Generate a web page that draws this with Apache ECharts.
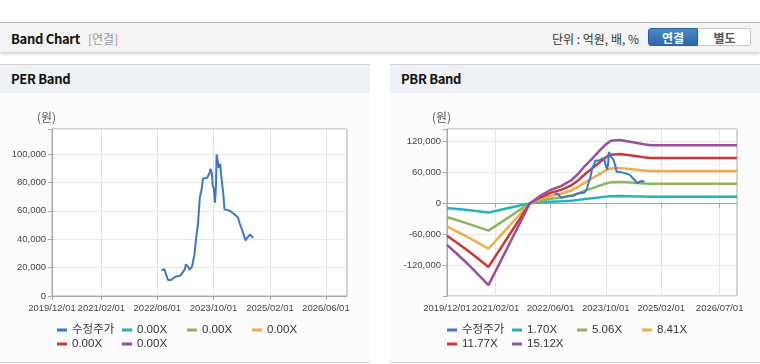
<!DOCTYPE html>
<html>
<head>
<meta charset="utf-8">
<script src="https://cdn.jsdelivr.net/npm/echarts@6/dist/echarts.min.js"></script>
<style>
  body { margin: 0; background: #fff; font-family: "Noto Sans CJK KR", "Liberation Sans", sans-serif; }
  #page { position: relative; width: 760px; height: 364px; overflow: hidden; }
  .hdr { position: absolute; left: 0; top: 22px; width: 760px; height: 29px; border-top: 1px solid #b8b8b8;
         background: #f4f4f4; box-shadow: 0 2px 3px rgba(0,0,0,0.18); }
  .hdr .ttl { position: absolute; left: 11px; top: 6px; font-size: 13px; font-weight: bold; color: #111; letter-spacing: -0.3px; }
  .hdr .sub { position: absolute; left: 88px; top: 7px; font-size: 12px; color: #999; }
  .hdr .unit { position: absolute; left: 552px; top: 7px; font-size: 12px; color: #333; }
  .btn { position: absolute; top: 5px; height: 18px; width: 50px; font-size: 12px; font-weight: bold; text-align: center; line-height: 18px; box-sizing: border-box; }
  .btn.on { left: 648px; background: linear-gradient(#4a86c8, #2f69ad); color: #fff; border: 1px solid #2c5f9c; border-radius: 3px 0 0 3px; }
  .btn.off { left: 699px; width: 52px; background: #fff; color: #555; border: 1px solid #c8c8c8; border-left: none; border-radius: 0 3px 3px 0; }
  .panel { position: absolute; top: 64px; height: 297px; border-top: 1px solid #d2d2d2; border-bottom: 1px solid #cfcfcf; background: #fcfcfc; }
  .panel .ph { height: 28px; background: #eef2f7; font-size: 13px; font-weight: bold; color: #111; line-height: 28px; padding-left: 11px; letter-spacing: -0.3px; }
  .chart { position: absolute; left: 0; top: 29px; width: 100%; height: 268px; }
</style>
</head>
<body>
<div id="page">
  <div class="hdr">
    <span class="ttl">Band Chart</span><span class="sub">[연결]</span>
    <span class="unit">단위 : 억원, 배, %</span>
    <div class="btn on">연결</div><div class="btn off">별도</div>
  </div>
  <div class="panel" style="left:0;width:370px;"><div class="ph">PER Band</div><div class="chart" id="per"></div></div>
  <div class="panel" style="left:390px;width:370px;"><div class="ph">PBR Band</div><div class="chart" id="pbr"></div></div>
</div>
<script>
// 수정주가
const priceDates = ['2022-07-07','2022-08-01','2022-09-01','2022-09-28','2022-11-04','2022-12-19','2023-01-25','2023-02-04',
  '2023-03-01','2023-03-07','2023-03-28','2023-04-19','2023-05-04','2023-05-19','2023-05-28','2023-06-04','2023-06-19',
  '2023-07-01','2023-08-07','2023-08-29','2023-09-04','2023-09-16','2023-09-25','2023-10-04','2023-10-13','2023-10-22',
  '2023-10-28','2023-11-10','2023-11-16','2023-11-28','2023-12-07','2023-12-25','2024-01-04','2024-02-13','2024-03-25',
  '2024-05-01','2024-05-16','2024-06-13','2024-07-04','2024-07-19','2024-08-13','2024-08-25','2024-09-07'];
const priceValues = [18100,18800,11300,11300,13600,14500,18800,22300,20000,18300,20600,29300,41500,50500,61000,69200,74400,
  82600,83300,86800,89600,86800,77400,75800,65700,77400,99700,98600,90300,93100,84500,71600,61000,60300,57900,
  55100,50900,44600,39200,41000,43400,42200,41000];

// PBR 밴드
const bandDates = ['2019-12-01','2020-03-01','2020-06-01','2020-09-01','2020-12-01','2021-12-01','2022-03-01','2022-06-01',
  '2022-09-01','2022-12-01','2023-02-01','2023-04-01','2023-06-01','2023-08-01','2023-10-01','2023-11-15','2023-12-01',
  '2024-02-01','2024-05-01','2024-09-01','2024-11-01','2026-12-01'];
const pbrBand1 = [-9100,-11100,-13300,-15600,-17900,0,1600,2900,3700,5000,6500,8200,9700,11300,12800,13600,13900,13800,13400,12900,12700,12700];
const pbrBand2 = [-27100,-33100,-39500,-46300,-53100,0,4800,8600,11100,14900,19200,24300,28800,33600,38200,40500,41200,41000,40000,38300,37700,37700];
const pbrBand3 = [-45000,-55100,-65600,-77000,-88300,0,7900,14300,18500,24800,32000,40400,47900,55900,63500,67300,68500,68100,66400,63700,62700,62700];
const pbrBand4 = [-63000,-77100,-91800,-107700,-123600,0,11100,20000,25900,34700,44700,56500,67100,78300,88900,94200,95900,95300,93000,89100,87700,87700];
const pbrBand5 = [-80900,-99000,-117900,-138300,-158800,0,14200,25700,33300,44600,57500,72600,86200,100500,114200,121000,123200,122500,119400,114500,112600,112600];

const perLabels = ['수정주가','0.00X','0.00X','0.00X','0.00X','0.00X'];
const pbrLabels = ['수정주가','1.70X','5.06X','8.41X','11.77X','15.12X'];
const perTicks = ['2019/12/01','2021/02/01','2022/06/01','2023/10/01','2025/02/01','2026/06/01'];
const pbrTicks = ['2019/12/01','2021/02/01','2022/06/01','2023/10/01','2025/02/01','2026/07/01'];
const perYLabels = [0,20000,40000,60000,80000,100000];
const pbrYLabels = [-120000,-60000,0,60000,120000];

const colors = ['#3a78c9','#22b2c2','#8cb65a','#f4aa45','#cf3531','#9650a1'];
const numFont = '"Liberation Sans", "DejaVu Sans", sans-serif';

function ts(s) { const p = s.split(/[\/-]/); return new Date(+p[0], +p[1] - 1, +p[2]).getTime(); }
function fmtDate(v) {
  const d = new Date(v), m = d.getMonth() + 1, dd = d.getDate();
  return d.getFullYear() + '/' + (m < 10 ? '0' + m : m) + '/' + (dd < 10 ? '0' + dd : dd);
}
function pairs(dates, vals) { return dates.map((d, i) => [ts(d), vals[i]]); }

function buildOption(labels, ticks, yLabels, yAxisRange, bands, gridLeft) {
  const ids = labels.map((l, i) => 's' + i);
  const series = [{ name: ids[0], type: 'line', data: pairs(priceDates, priceValues) }];
  for (let i = 0; i < 5; i++) {
    series.push({ name: ids[i + 1], type: 'line', data: bands ? pairs(bandDates, bands[i]) : [] });
  }
  series.forEach((s, i) => {
    s.showSymbol = false; s.symbol = 'none'; s.color = colors[i];
    s.lineStyle = { width: i === 0 ? 2 : 2.5, color: colors[i] };
    s.z = i === 0 ? 3 : 2;
  });
  return {
    animation: false,
    grid: { left: gridLeft, right: 23, top: 35, bottom: 66, show: true, borderColor: '#a8a8a8', borderWidth: 1, backgroundColor: '#fff' },
    graphic: [{ type: 'text', left: gridLeft - 15, top: 17, style: { text: '(원)', font: '12px "Noto Sans CJK KR"', fill: '#555' } }],
    legend: {
      data: ids, left: 52, top: 224, width: 262, itemGap: 0, itemWidth: 10, itemHeight: 3, icon: 'rect',
      formatter: n => labels[ids.indexOf(n)],
      textStyle: { fontSize: 11.5, color: '#333', width: 50, lineHeight: 14, fontFamily: '"Liberation Sans", "Noto Sans CJK KR", sans-serif' }
    },
    xAxis: {
      type: 'value', min: ts('2019/12/01'), max: ts('2026/12/01'),
      axisLine: { lineStyle: { color: '#a8a8a8' } },
      axisTick: { show: true, length: 4, customValues: ticks.map(ts), lineStyle: { color: '#a8a8a8' } },
      axisLabel: { customValues: ticks.map(ts), formatter: v => fmtDate(v), color: '#444', fontSize: 9.5, fontFamily: numFont,
        margin: 7, hideOverlap: false, showMinLabel: true, showMaxLabel: true },
      splitLine: { show: true, lineStyle: { color: '#e6e6e6' } }
    },
    yAxis: {
      type: 'value', min: yAxisRange[0], max: yAxisRange[1], interval: yAxisRange[2],
      axisLine: { show: true, lineStyle: { color: '#a8a8a8' } },
      axisTick: { show: true, length: 4, lineStyle: { color: '#a8a8a8' } },
      axisLabel: { formatter: v => yLabels.indexOf(v) >= 0 ? v.toLocaleString('en-US') : '', color: '#444', fontSize: 9.5, fontFamily: numFont, margin: 6 },
      splitLine: { lineStyle: { color: '#e6e6e6' } }
    },
    series: series
  };
}

const perChart = echarts.init(document.getElementById('per'));
perChart.setOption(buildOption(perLabels, perTicks, perYLabels, [0, 117600, 20000], null, 52));

const pbrChart = echarts.init(document.getElementById('pbr'));
pbrChart.setOption(buildOption(pbrLabels, pbrTicks, pbrYLabels, [-180000, 144000, 60000],
  [pbrBand1, pbrBand2, pbrBand3, pbrBand4, pbrBand5], 57));
</script>
</body>
</html>
